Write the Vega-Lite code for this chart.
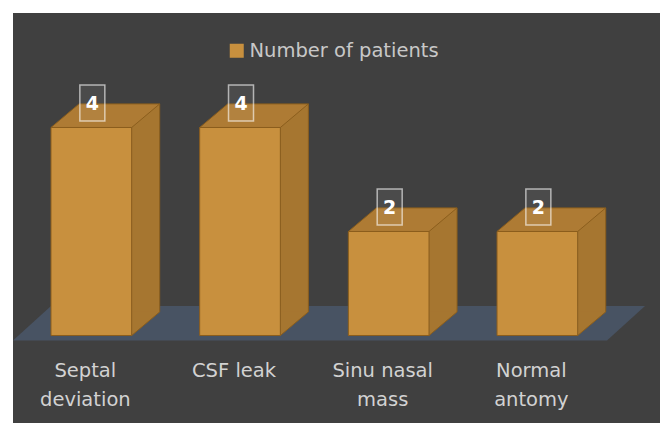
{
  "$schema": "https://vega.github.io/schema/vega-lite/v6.json",
  "width": 647,
  "height": 410,
  "autosize": {"type": "none"},
  "padding": {"left": 13, "top": 13, "right": 0, "bottom": 0},
  "background": "#ffffff",
  "config": {
    "font": "DejaVu Sans",
    "view": {"fill": "#404040", "stroke": null},
    "axis": {"labelFont": "DejaVu Sans"},
    "legend": {"labelFont": "DejaVu Sans"}
  },
  "data": {
    "values": [
      {"cause": "Septal deviation", "patients": 4},
      {"cause": "CSF leak", "patients": 4},
      {"cause": "Sinu nasal mass", "patients": 2},
      {"cause": "Normal antomy", "patients": 2}
    ]
  },
  "encoding": {
    "x": {
      "field": "cause",
      "type": "nominal",
      "sort": null,
      "scale": {"range": [38, 564.7], "paddingInner": 0.4573, "paddingOuter": 0},
      "axis": {
        "title": null,
        "orient": "bottom",
        "offset": -62,
        "domain": false,
        "ticks": false,
        "grid": false,
        "labelAngle": 0,
        "labelPadding": 0,
        "labelBaseline": "top",
        "labelFontSize": 19.5,
        "labelColor": "#d2d2d2",
        "labelLineHeight": 29,
        "labelOffset": -6,
        "labelExpr": "datum.label === 'Septal deviation' ? ['Septal', 'deviation'] : datum.label === 'Sinu nasal mass' ? ['Sinu nasal', 'mass'] : datum.label === 'Normal antomy' ? ['Normal', 'antomy'] : datum.label"
      }
    },
    "y": {
      "field": "patients",
      "type": "quantitative",
      "scale": {"domain": [-1.683, 6.202], "nice": false, "zero": false},
      "axis": null
    }
  },
  "layer": [
    {
      "description": "floor plate under the bars, anchored at the first bar's base",
      "transform": [{"filter": "datum.cause === 'Septal deviation'"}],
      "mark": {
        "type": "point",
        "shape": "M-78.35,5L515.65,5L553.65,-29.5L-40.35,-29.5Z",
        "size": 4,
        "filled": true,
        "fill": "#485363",
        "strokeWidth": 0,
        "opacity": 1
      },
      "encoding": {"y": {"datum": 0}}
    },
    {
      "description": "side face, main body",
      "mark": {
        "type": "bar",
        "width": 28,
        "xOffset": 54.35,
        "yOffset": -23.6,
        "y2Offset": -23.6,
        "color": "#a67630"
      },
      "encoding": {"y2": {"datum": 0}}
    },
    {
      "description": "side face, lower wedge",
      "mark": {
        "type": "point",
        "shape": "M40.35,-24.2L68.35,-24.2L68.35,-23.6L40.35,0Z",
        "size": 4,
        "filled": true,
        "fill": "#a67630",
        "strokeWidth": 0,
        "opacity": 1
      },
      "encoding": {"y": {"datum": 0}}
    },
    {
      "description": "front face",
      "mark": {"type": "bar", "stroke": "#8b5e1d", "strokeWidth": 1},
      "encoding": {
        "y2": {"datum": 0},
        "color": {
          "datum": "Number of patients",
          "scale": {"range": ["#c8903e"]},
          "legend": {
            "title": null,
            "orient": "none",
            "legendX": 214,
            "legendY": 28,
            "symbolType": "square",
            "symbolSize": 196,
            "symbolStrokeWidth": 0,
            "labelFontSize": 19.5,
            "labelColor": "#c8c8c8",
            "labelOffset": 3,
            "labelLimit": 400
          }
        }
      }
    },
    {
      "description": "top face",
      "mark": {
        "type": "point",
        "shape": "M-40.35,0L40.35,0L68.35,-23.6L-12.35,-23.6Z",
        "size": 4,
        "filled": true,
        "fill": "#ae7b34",
        "stroke": "#8b5e1d",
        "strokeWidth": 1,
        "opacity": 1
      }
    },
    {
      "description": "side face back edge",
      "mark": {
        "type": "rule",
        "xOffset": 68.35,
        "yOffset": -23.6,
        "y2Offset": -23.6,
        "color": "#8b5e1d",
        "strokeWidth": 1
      },
      "encoding": {"y2": {"datum": 0}}
    },
    {
      "description": "side face bottom edge",
      "mark": {
        "type": "point",
        "shape": "M40.35,0L68.35,-23.6",
        "size": 4,
        "filled": false,
        "stroke": "#8b5e1d",
        "strokeWidth": 1,
        "opacity": 1
      },
      "encoding": {"y": {"datum": 0}}
    },
    {
      "description": "value label frame",
      "mark": {
        "type": "point",
        "shape": "M-11.5,-42.5L13.5,-42.5L13.5,-6.5L-11.5,-6.5Z",
        "size": 4,
        "filled": true,
        "fill": "rgba(255,255,255,0.06)",
        "stroke": "rgba(255,255,255,0.6)",
        "strokeWidth": 1.5,
        "opacity": 1
      }
    },
    {
      "description": "value labels",
      "mark": {
        "type": "text",
        "dx": 1,
        "dy": -23.5,
        "baseline": "middle",
        "align": "center",
        "fontSize": 19,
        "fontWeight": "bold",
        "color": "#ffffff"
      },
      "encoding": {"text": {"field": "patients", "type": "quantitative"}}
    }
  ]
}
